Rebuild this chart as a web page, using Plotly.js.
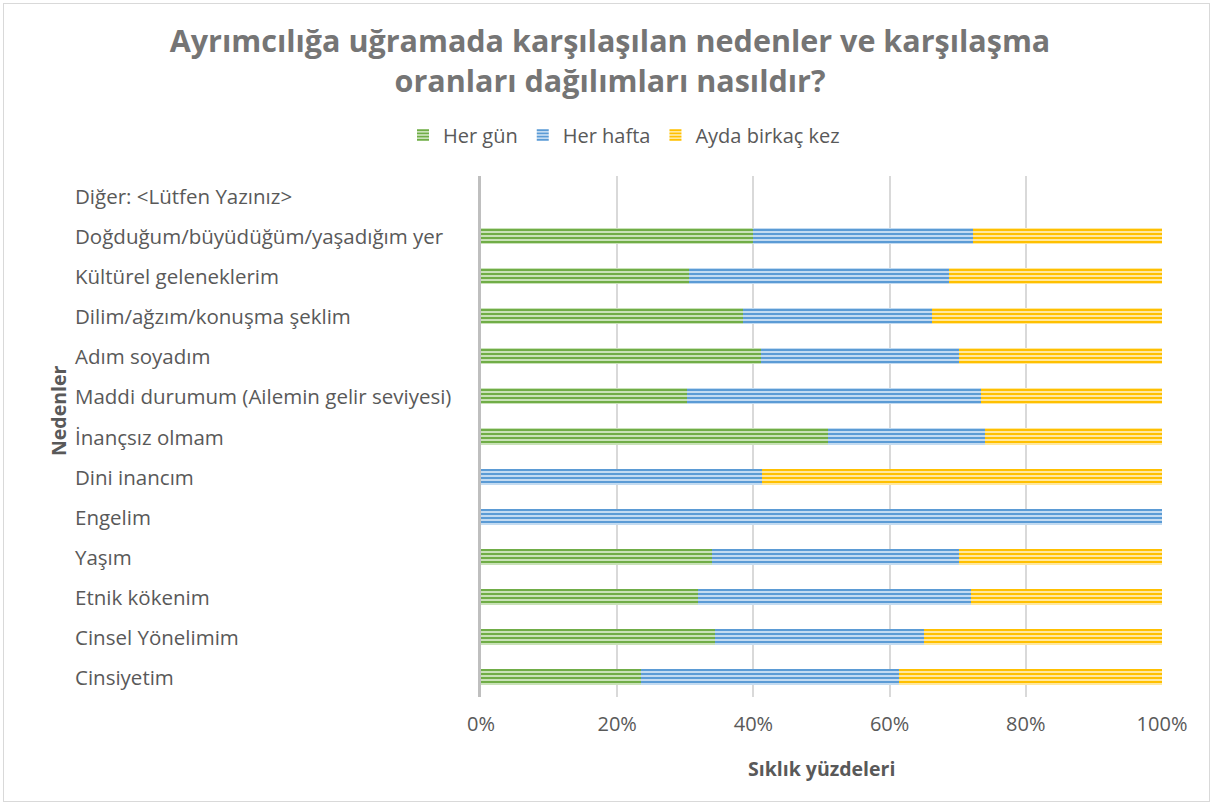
<!DOCTYPE html>
<html>
<head>
<meta charset="utf-8">
<script src="https://cdn.plot.ly/plotly-3.0.1.min.js"></script>
<style>
  html, body { margin: 0; padding: 0; background: #fff; }
  #wrap { position: relative; width: 1213px; height: 805px; }
  #chart { width: 1213px; height: 805px; }
  #frame { position: absolute; left: 3px; top: 3px; width: 1205px; height: 797px; border: 1px solid #d9d9d9; pointer-events: none; }
</style>
</head>
<body>
<div id="wrap">
  <div id="chart"></div>
  <div id="frame"></div>
</div>
<script>
const categories = [
  "Diğer: <Lütfen Yazınız>",
  "Doğduğum/büyüdüğüm/yaşadığım yer",
  "Kültürel geleneklerim",
  "Dilim/ağzım/konuşma şeklim",
  "Adım soyadım",
  "Maddi durumum (Ailemin gelir seviyesi)",
  "İnançsız olmam",
  "Dini inancım",
  "Engelim",
  "Yaşım",
  "Etnik kökenim",
  "Cinsel Yönelimim",
  "Cinsiyetim"
];
const herGun     = [0, 39.9, 30.5, 38.5, 41.1, 30.2, 51.0, 0, 0, 33.9, 31.9, 34.4, 23.5];
const herHafta   = [0, 32.3, 38.2, 27.7, 29.1, 43.2, 23.0, 41.3, 100, 36.3, 40.1, 30.7, 37.9];
const aydaBirkac = [0, 27.8, 31.3, 33.8, 29.8, 26.6, 26.0, 58.7, 0, 29.8, 28.0, 34.9, 38.6];
const seriesNames = ["Her gün", "Her hafta", "Ayda birkaç kez"];
const tickVals = [0, 20, 40, 60, 80, 100];
const tickText = ["0%", "20%", "40%", "60%", "80%", "100%"];

const styles = [
  {fg: "#70ad47", bg: "#c9e2b8"},
  {fg: "#5b9bd5", bg: "#c3dbf1"},
  {fg: "#ffc000", bg: "#ffe8a0"}
];
const seriesData = [herGun, herHafta, aydaBirkac];

const traces = seriesData.map((vals, i) => ({
  type: "bar",
  orientation: "h",
  name: seriesNames[i],
  x: vals,
  y: categories,
  marker: {
    color: styles[i].bg,
    line: {width: 0},
    pattern: {shape: "-", fgcolor: styles[i].fg, bgcolor: styles[i].bg, size: 4, solidity: 0.5, fillmode: "replace"}
  },
  hovertemplate: "%{y}: %{x}%<extra>" + seriesNames[i] + "</extra>"
}));

const FONT = "Open Sans, sans-serif";
const labelFont = {family: FONT, size: 20.5, color: "#595959"};
const annotations = categories.map(c => ({
  xref: "paper", yref: "y", x: (73 - 481) / 681, y: c,
  text: c.replace(/</g, "&lt;").replace(/>/g, "&gt;"),
  showarrow: false, xanchor: "left", yanchor: "middle",
  font: labelFont
}));
annotations.push({
  xref: "paper", yref: "paper", x: (821 - 481) / 681, y: (697 - 768) / 521,
  text: "<b>Sıklık yüzdeleri</b>", showarrow: false, xanchor: "center", yanchor: "middle",
  font: {family: FONT, size: 19.5, color: "#595959"}
});
annotations.push({
  xref: "paper", yref: "paper", x: (58 - 481) / 681, y: (697 - 410) / 521,
  text: "<b>Nedenler</b>", showarrow: false, textangle: -90, xanchor: "center", yanchor: "middle",
  font: {family: FONT, size: 19.5, color: "#595959"}
});

const layout = {
  width: 1213, height: 805,
  margin: {l: 481, r: 51, t: 176, b: 108},
  paper_bgcolor: "#ffffff", plot_bgcolor: "#ffffff",
  barmode: "stack",
  bargap: 0.6,
  title: {
    text: "<b>Ayrımcılığa uğramada karşılaşılan nedenler ve karşılaşma<br>oranları dağılımları nasıldır?</b>",
    x: 610 / 1213, xref: "container", xanchor: "center",
    y: 1 - 52 / 805, yref: "container", yanchor: "middle",
    font: {family: FONT, size: 30.5, color: "#757575"}
  },
  showlegend: true,
  legend: {
    orientation: "h", x: (624 - 481) / 681, xanchor: "center",
    y: (697 - 135) / 521, yanchor: "middle",
    font: {family: FONT, size: 20, color: "#595959"},
    traceorder: "normal", itemwidth: 30
  },
  xaxis: {
    range: [0, 100], tickvals: tickVals, ticktext: tickText,
    showgrid: true, gridcolor: "#d9d9d9", gridwidth: 1.5,
    zeroline: false, showline: false, ticks: "",
    ticklabelstandoff: 13,
    tickfont: {family: FONT, size: 20, color: "#595959"},
    fixedrange: true
  },
  yaxis: {
    type: "category", autorange: "reversed",
    showticklabels: false, ticks: "", showgrid: false, zeroline: false,
    showline: true, linecolor: "#bfbfbf", linewidth: 2.5,
    fixedrange: true
  },
  annotations: annotations,
  font: {family: FONT, color: "#595959"}
};

Plotly.newPlot("chart", traces, layout, {displayModeBar: false, responsive: false});
</script>
</body>
</html>
